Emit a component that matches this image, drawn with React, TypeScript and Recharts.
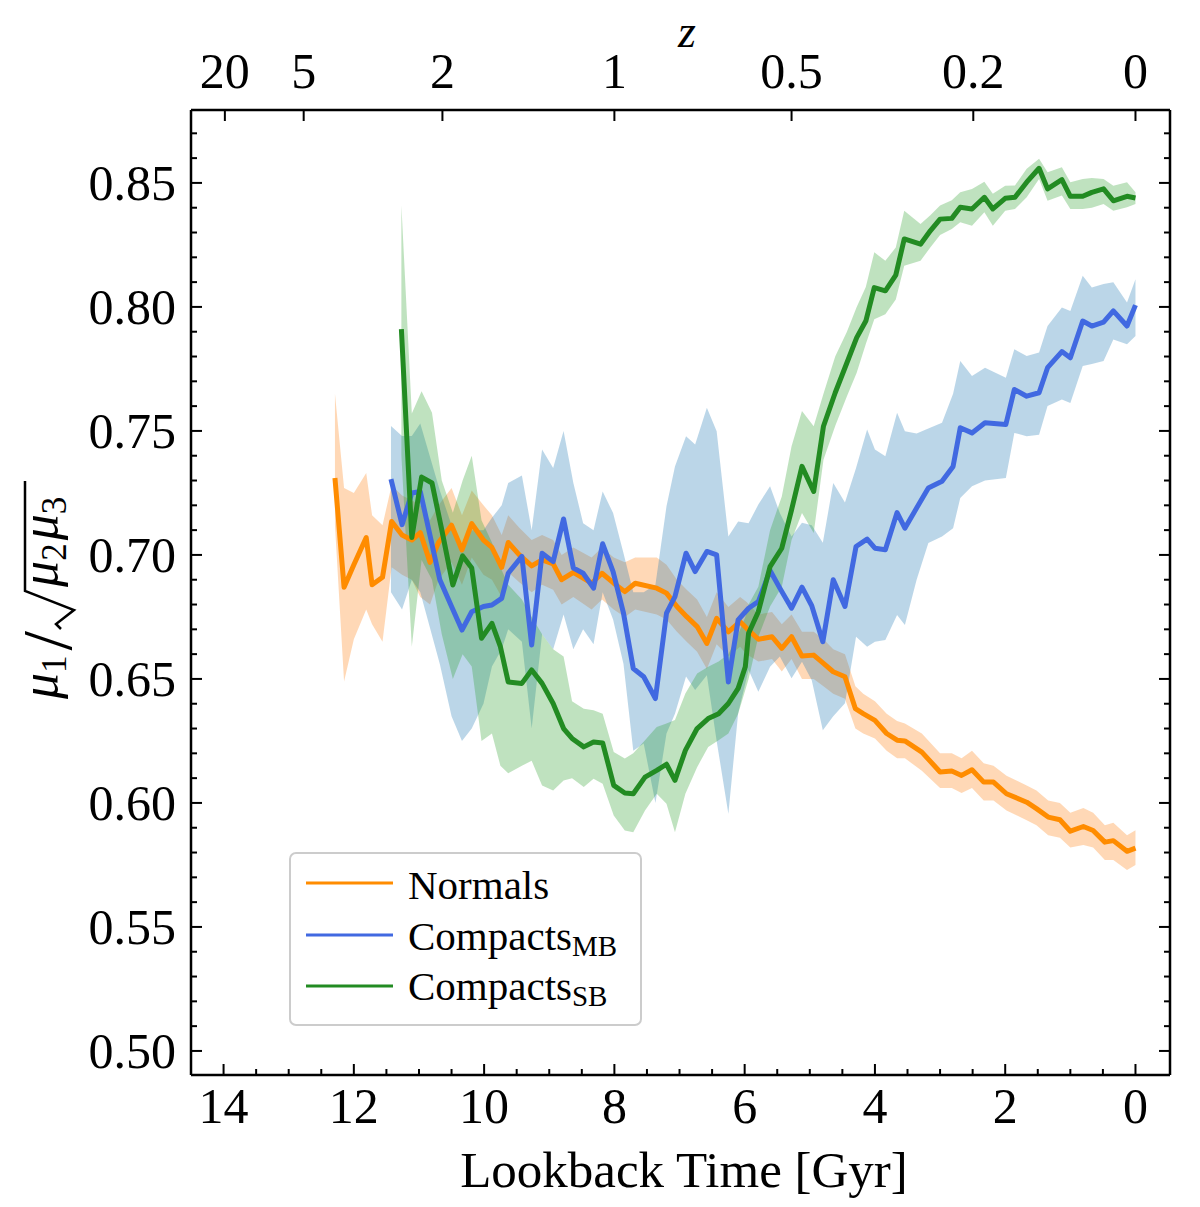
import React from 'react';
import { ComposedChart, Area, Line, XAxis, YAxis } from 'recharts';

const FONT = '"Liberation Serif", "Times New Roman", Times, serif';
const W = 1192;
const H = 1199;
const PLOT_L = 191;
const PLOT_R = 1170;
const PLOT_T = 110;
const PLOT_B = 1075;
const X_DOMAIN: [number, number] = [-0.53, 14.5];
const Y_DOMAIN: [number, number] = [0.4903, 0.8794];

// ---------- tick values / labels ----------
const xMajorTicks = [0, 2, 4, 6, 8, 10, 12, 14];
const xMinorTicks = [0.5, 1, 1.5, 2.5, 3, 3.5, 4.5, 5, 5.5, 6.5, 7, 7.5, 8.5, 9, 9.5, 10.5, 11, 11.5, 12.5, 13, 13.5];
const yMajorTicks = [0.5, 0.55, 0.6, 0.65, 0.7, 0.75, 0.8, 0.85];
const yMinorTicks = [
  0.51, 0.52, 0.53, 0.54, 0.56, 0.57, 0.58, 0.59, 0.61, 0.62, 0.63, 0.64, 0.66, 0.67, 0.68, 0.69,
  0.71, 0.72, 0.73, 0.74, 0.76, 0.77, 0.78, 0.79, 0.81, 0.82, 0.83, 0.84, 0.86, 0.87,
];
const zTickPositions = [13.98, 12.77, 10.64, 8.0, 5.28, 2.49, 0.0];
const zTickLabels = ['20', '5', '2', '1', '0.5', '0.2', '0'];

// ---------- Normals ----------
const normalsT = [12.29, 12.15, 12.0, 11.81, 11.72, 11.56, 11.42, 11.26, 11.11, 10.98, 10.83, 10.7, 10.5, 10.34, 10.19, 10.01, 9.88, 9.73, 9.63, 9.46, 9.27, 9.11, 8.94, 8.81, 8.63, 8.35, 8.19, 8.01, 7.84, 7.68, 7.35, 7.2, 7.04, 6.89, 6.73, 6.58, 6.43, 6.25, 6.07, 5.97, 5.79, 5.58, 5.43, 5.28, 5.12, 4.94, 4.79, 4.64, 4.46, 4.3, 4.18, 4.0, 3.82, 3.66, 3.54, 3.28, 3.0, 2.82, 2.67, 2.51, 2.33, 2.18, 1.98, 1.67, 1.52, 1.34, 1.16, 1.0, 0.8, 0.65, 0.47, 0.34, 0.13, 0.0];
const normalsMean = [0.731, 0.687, 0.696, 0.707, 0.688, 0.691, 0.7135, 0.708, 0.706, 0.709, 0.697, 0.705, 0.712, 0.702, 0.7126, 0.706, 0.703, 0.695, 0.705, 0.7, 0.6956, 0.698, 0.6964, 0.69, 0.693, 0.6886, 0.6926, 0.6886, 0.6852, 0.6886, 0.6866, 0.6846, 0.6792, 0.6751, 0.6711, 0.6643, 0.6744, 0.669, 0.6731, 0.6704, 0.666, 0.667, 0.6623, 0.667, 0.6592, 0.6596, 0.6563, 0.6529, 0.6509, 0.638, 0.636, 0.6333, 0.628, 0.6253, 0.625, 0.6205, 0.6125, 0.6129, 0.6111, 0.6134, 0.6084, 0.6084, 0.6037, 0.6003, 0.5977, 0.5943, 0.5932, 0.5886, 0.5905, 0.5889, 0.5842, 0.5848, 0.5805, 0.5818];
const normalsLo = [0.712, 0.649, 0.666, 0.678, 0.672, 0.665, 0.695, 0.692, 0.69, 0.683, 0.68, 0.69, 0.697, 0.688, 0.699, 0.692, 0.69, 0.683, 0.693, 0.689, 0.685, 0.688, 0.686, 0.68, 0.683, 0.678, 0.682, 0.678, 0.675, 0.678, 0.676, 0.674, 0.669, 0.665, 0.661, 0.654, 0.664, 0.659, 0.663, 0.66, 0.657, 0.658, 0.653, 0.658, 0.65, 0.65, 0.647, 0.644, 0.642, 0.63, 0.628, 0.626, 0.621, 0.618, 0.618, 0.613, 0.606, 0.606, 0.604, 0.606, 0.601, 0.601, 0.597, 0.593, 0.591, 0.587, 0.586, 0.582, 0.583, 0.582, 0.577, 0.577, 0.573, 0.575];
const normalsHi = [0.765, 0.727, 0.725, 0.733, 0.716, 0.712, 0.728, 0.724, 0.722, 0.72, 0.714, 0.72, 0.727, 0.716, 0.726, 0.72, 0.716, 0.708, 0.716, 0.711, 0.706, 0.708, 0.706, 0.7, 0.703, 0.699, 0.703, 0.699, 0.697, 0.699, 0.699, 0.696, 0.69, 0.686, 0.682, 0.675, 0.685, 0.679, 0.683, 0.681, 0.676, 0.677, 0.672, 0.676, 0.669, 0.669, 0.666, 0.662, 0.66, 0.647, 0.644, 0.641, 0.636, 0.633, 0.632, 0.628, 0.62, 0.62, 0.618, 0.621, 0.616, 0.615, 0.611, 0.607, 0.605, 0.601, 0.6, 0.596, 0.598, 0.596, 0.591, 0.592, 0.587, 0.589];

// ---------- Compacts MB ----------
const mbT = [11.43, 11.26, 11.11, 10.98, 10.68, 10.5, 10.34, 10.19, 10.01, 9.88, 9.73, 9.63, 9.42, 9.27, 9.11, 8.94, 8.78, 8.63, 8.48, 8.32, 8.18, 8.02, 7.86, 7.71, 7.55, 7.37, 7.2, 7.07, 6.9, 6.76, 6.58, 6.43, 6.25, 6.1, 5.94, 5.79, 5.61, 5.46, 5.28, 5.12, 4.97, 4.8, 4.64, 4.46, 4.29, 4.12, 4.0, 3.84, 3.66, 3.54, 3.36, 3.18, 2.97, 2.8, 2.69, 2.51, 2.31, 1.99, 1.86, 1.67, 1.48, 1.35, 1.13, 1.0, 0.81, 0.67, 0.49, 0.34, 0.13, 0.0];
const mbMean = [0.7306, 0.7122, 0.725, 0.7256, 0.69, 0.6792, 0.6697, 0.6771, 0.6792, 0.6798, 0.6825, 0.6926, 0.6994, 0.6637, 0.7007, 0.6973, 0.7145, 0.6947, 0.6926, 0.6866, 0.7045, 0.6933, 0.6765, 0.6542, 0.6509, 0.6421, 0.6765, 0.6832, 0.7007, 0.6933, 0.7014, 0.7, 0.6488, 0.6738, 0.6785, 0.6812, 0.6937, 0.6866, 0.6785, 0.687, 0.6795, 0.665, 0.69, 0.6792, 0.7034, 0.7064, 0.7027, 0.7021, 0.7171, 0.7108, 0.7189, 0.727, 0.7297, 0.7357, 0.7513, 0.7492, 0.7533, 0.7526, 0.7667, 0.764, 0.7654, 0.7755, 0.782, 0.7795, 0.7943, 0.7923, 0.7939, 0.7984, 0.7923, 0.8007];
const mbLo = [0.685, 0.678, 0.69, 0.685, 0.656, 0.635, 0.625, 0.63, 0.64, 0.655, 0.662, 0.67, 0.665, 0.63, 0.668, 0.662, 0.676, 0.662, 0.67, 0.664, 0.685, 0.674, 0.656, 0.621, 0.624, 0.6, 0.628, 0.636, 0.651, 0.6455, 0.6515, 0.625, 0.5956, 0.6362, 0.6536, 0.6448, 0.6549, 0.659, 0.6503, 0.6569, 0.6495, 0.6293, 0.635, 0.6402, 0.667, 0.663, 0.665, 0.6657, 0.6758, 0.6717, 0.69, 0.7048, 0.7074, 0.7108, 0.723, 0.7277, 0.73, 0.731, 0.7492, 0.7479, 0.7485, 0.76, 0.7627, 0.7613, 0.7762, 0.777, 0.7782, 0.7869, 0.7849, 0.7883];
const mbHi = [0.752, 0.748, 0.748, 0.753, 0.726, 0.712, 0.704, 0.71, 0.71, 0.715, 0.72, 0.729, 0.732, 0.71, 0.7425, 0.735, 0.75, 0.729, 0.7128, 0.71, 0.7256, 0.7169, 0.7007, 0.685, 0.685, 0.688, 0.7196, 0.7357, 0.7479, 0.7445, 0.7593, 0.7499, 0.7074, 0.7135, 0.7128, 0.7203, 0.7277, 0.7169, 0.7074, 0.713, 0.712, 0.7049, 0.729, 0.7211, 0.735, 0.7506, 0.7425, 0.7398, 0.7573, 0.7499, 0.749, 0.751, 0.7533, 0.765, 0.7782, 0.7721, 0.7755, 0.7714, 0.7829, 0.7802, 0.7816, 0.7923, 0.7998, 0.7984, 0.8126, 0.8078, 0.8092, 0.8099, 0.8018, 0.8112];

// ---------- Compacts SB ----------
const sbT = [11.27, 11.11, 10.96, 10.8, 10.65, 10.48, 10.33, 10.19, 10.04, 9.88, 9.75, 9.63, 9.42, 9.27, 9.11, 8.94, 8.78, 8.65, 8.47, 8.32, 8.18, 8.01, 7.84, 7.71, 7.53, 7.35, 7.2, 7.07, 6.91, 6.73, 6.56, 6.4, 6.25, 6.1, 5.99, 5.94, 5.79, 5.61, 5.43, 5.28, 5.12, 4.94, 4.79, 4.61, 4.43, 4.28, 4.14, 4.01, 3.84, 3.68, 3.55, 3.3, 3.15, 3.0, 2.82, 2.69, 2.51, 2.32, 2.19, 2.0, 1.85, 1.67, 1.48, 1.35, 1.13, 1.0, 0.81, 0.67, 0.49, 0.34, 0.13, 0.0];
const sbMean = [0.791, 0.707, 0.7314, 0.729, 0.7101, 0.6879, 0.6996, 0.6947, 0.6664, 0.6724, 0.663, 0.6488, 0.6482, 0.6536, 0.6482, 0.6401, 0.63, 0.626, 0.6226, 0.6246, 0.6242, 0.6071, 0.604, 0.6037, 0.6104, 0.6131, 0.6156, 0.6091, 0.6212, 0.63, 0.634, 0.636, 0.6401, 0.6462, 0.6549, 0.6684, 0.6771, 0.6953, 0.7027, 0.7182, 0.7357, 0.7256, 0.7519, 0.7654, 0.7775, 0.7876, 0.7943, 0.8078, 0.8065, 0.8128, 0.8274, 0.8253, 0.8307, 0.8354, 0.8357, 0.8402, 0.8395, 0.8442, 0.8395, 0.8438, 0.8442, 0.8503, 0.8559, 0.8476, 0.8513, 0.8446, 0.8446, 0.8462, 0.8476, 0.8428, 0.8446, 0.8439];
const sbLo = [0.74, 0.663, 0.698, 0.69, 0.668, 0.65, 0.66, 0.655, 0.625, 0.628, 0.615, 0.612, 0.615, 0.617, 0.607, 0.605, 0.609, 0.61, 0.6064, 0.6098, 0.6077, 0.5949, 0.5889, 0.5882, 0.5969, 0.6037, 0.5997, 0.5882, 0.6037, 0.6144, 0.6226, 0.6253, 0.628, 0.636, 0.6455, 0.65, 0.667, 0.6792, 0.6872, 0.706, 0.7169, 0.7088, 0.7384, 0.752, 0.764, 0.7735, 0.785, 0.795, 0.797, 0.803, 0.8166, 0.8186, 0.824, 0.829, 0.8314, 0.8341, 0.8327, 0.8382, 0.8327, 0.8388, 0.8395, 0.8442, 0.8516, 0.8428, 0.8449, 0.8395, 0.8395, 0.84, 0.8415, 0.8388, 0.8402, 0.8415];
const sbHi = [0.841, 0.757, 0.766, 0.7573, 0.73, 0.717, 0.73, 0.74, 0.714, 0.705, 0.695, 0.688, 0.682, 0.675, 0.668, 0.662, 0.659, 0.641, 0.638, 0.6374, 0.636, 0.6205, 0.6179, 0.62, 0.6253, 0.6306, 0.632, 0.6334, 0.6441, 0.6522, 0.6549, 0.657, 0.66, 0.668, 0.675, 0.68, 0.6872, 0.71, 0.7236, 0.7438, 0.758, 0.7519, 0.765, 0.78, 0.79, 0.8, 0.808, 0.822, 0.8186, 0.824, 0.8388, 0.8334, 0.837, 0.8409, 0.843, 0.8462, 0.8475, 0.8505, 0.8456, 0.8489, 0.849, 0.8557, 0.8597, 0.8543, 0.8563, 0.8503, 0.8516, 0.852, 0.8516, 0.8489, 0.8503, 0.8462];

const seriesNames = ['Normals', 'Compacts', 'Compacts'];
const seriesSubs = ['', 'MB', 'SB'];
const lineColors = ['#ff8c00', '#4169e1', '#228b22'];
const bandColors = ['#ff7f0e', '#1f77b4', '#2ca02c'];

const rows = (t: number[], m: number[], lo: number[], hi: number[]) =>
  t.map((tv, i) => ({ t: tv, mean: m[i], band: [lo[i], hi[i]] }));

const normalsRows = rows(normalsT, normalsMean, normalsLo, normalsHi);
const mbRows = rows(mbT, mbMean, mbLo, mbHi);
const sbRows = rows(sbT, sbMean, sbLo, sbHi);
const allRows = [normalsRows, mbRows, sbRows];

const isIn = (arr: number[], v: number) => arr.some((a) => Math.abs(a - v) < 1e-6);

const MAJOR = 11;
const MINOR = 6;

const BottomTick = (props: any) => {
  const { x, y, payload } = props;
  const major = isIn(xMajorTicks, payload.value);
  return (
    <g>
      <line x1={x} x2={x} y1={y} y2={y - (major ? MAJOR : MINOR)} stroke="#000" strokeWidth={2} />
      {major && (
        <text x={x} y={y + 48} textAnchor="middle" fontSize={50} fontFamily={FONT} fill="#000">
          {String(payload.value)}
        </text>
      )}
    </g>
  );
};

const TopTick = (props: any) => {
  const { x, y, payload } = props;
  const idx = zTickPositions.findIndex((p) => Math.abs(p - payload.value) < 1e-6);
  return (
    <g>
      <line x1={x} x2={x} y1={y} y2={y + MAJOR} stroke="#000" strokeWidth={2} />
      <text x={x} y={y - 22} textAnchor="middle" fontSize={50} fontFamily={FONT} fill="#000">
        {idx >= 0 ? zTickLabels[idx] : ''}
      </text>
    </g>
  );
};

const LeftTick = (props: any) => {
  const { x, y, payload } = props;
  const major = isIn(yMajorTicks, payload.value);
  return (
    <g>
      <line x1={x} x2={x + (major ? MAJOR : MINOR)} y1={y} y2={y} stroke="#000" strokeWidth={2} />
      {major && (
        <text x={x - 15} y={y + 17} textAnchor="end" fontSize={50} fontFamily={FONT} fill="#000">
          {Number(payload.value).toFixed(2)}
        </text>
      )}
    </g>
  );
};

const RightTick = (props: any) => {
  const { x, y, payload } = props;
  const major = isIn(yMajorTicks, payload.value);
  return (
    <g>
      <line x1={x} x2={x - (major ? MAJOR : MINOR)} y1={y} y2={y} stroke="#000" strokeWidth={2} />
    </g>
  );
};

const YLabel = () => (
  <g transform="translate(57,585) rotate(-90)" fontFamily={FONT} fill="#000">
    <text x={-114} y={0}>
      <tspan fontSize={52} fontStyle="italic">μ</tspan>
      <tspan fontSize={35} dy={9}>1</tspan>
      <tspan fontSize={70} dy={5} dx={5}>/</tspan>
      <tspan fontSize={52} fontStyle="italic" dy={-14} dx={44}>μ</tspan>
      <tspan fontSize={35} dy={9}>2</tspan>
      <tspan fontSize={52} fontStyle="italic" dy={-9} dx={3}>μ</tspan>
      <tspan fontSize={35} dy={9}>3</tspan>
    </text>
    <path d="M -44 4 L -39 -1 L -25 17 L -6 -32 L 104 -32" fill="none" stroke="#000" strokeWidth={2.5} />
  </g>
);

const XLabel = () => (
  <text x={684} y={1187} textAnchor="middle" fontSize={51} fontFamily={FONT} fill="#000">
    Lookback Time [Gyr]
  </text>
);

const ZLabel = () => (
  <text x={687} y={47} textAnchor="middle" fontSize={46} fontStyle="italic" fontFamily={FONT} fill="#000">
    z
  </text>
);

const LegendBox = () => {
  const rowsY = [883, 935, 986];
  const baseY = [899, 950, 1000];
  return (
    <svg width={W} height={H} style={{ position: 'absolute', left: 0, top: 0, pointerEvents: 'none' }}>
      <rect x={290} y={853} width={351} height={172} rx={6} ry={6} fill="#fff" fillOpacity={0.8} stroke="#cccccc" strokeWidth={2} />
      {seriesNames.map((name, i) => (
        <g key={i}>
          <line x1={306} x2={393} y1={rowsY[i]} y2={rowsY[i]} stroke={lineColors[i]} strokeWidth={3.2} />
          <text x={408} y={baseY[i]} fontSize={41} fontFamily={FONT} fill="#000">
            {name}
            {seriesSubs[i] && (
              <tspan fontSize={29} dy={6}>
                {seriesSubs[i]}
              </tspan>
            )}
          </text>
        </g>
      ))}
    </svg>
  );
};

export default function App() {
  return (
    <div style={{ position: 'relative', marginTop: -8, marginLeft: -8, width: W, height: H, background: '#fff' }}>
      <ComposedChart width={W} height={H} margin={{ top: 0, right: 0, bottom: 0, left: 0 }}>
        <XAxis
          xAxisId="b"
          type="number"
          dataKey="t"
          domain={X_DOMAIN}
          reversed
          allowDataOverflow
          ticks={[...xMajorTicks, ...xMinorTicks].sort((a, b) => a - b)}
          interval={0}
          tick={(p: any) => <BottomTick {...p} />}
          tickSize={0}
          tickMargin={0}
          tickLine={false}
          axisLine={{ stroke: '#000', strokeWidth: 2.5 }}
          height={H - PLOT_B}
          label={<XLabel />}
        />
        <XAxis
          xAxisId="top"
          orientation="top"
          type="number"
          dataKey="t"
          domain={X_DOMAIN}
          reversed
          allowDataOverflow
          ticks={zTickPositions}
          interval={0}
          tick={(p: any) => <TopTick {...p} />}
          tickSize={0}
          tickMargin={0}
          tickLine={false}
          axisLine={{ stroke: '#000', strokeWidth: 2.5 }}
          height={PLOT_T}
          label={<ZLabel />}
        />
        <YAxis
          yAxisId="l"
          type="number"
          domain={Y_DOMAIN}
          allowDataOverflow
          ticks={[...yMajorTicks, ...yMinorTicks].sort((a, b) => a - b)}
          interval={0}
          tick={(p: any) => <LeftTick {...p} />}
          tickSize={0}
          tickMargin={0}
          tickLine={false}
          axisLine={{ stroke: '#000', strokeWidth: 2.5 }}
          width={PLOT_L}
          label={<YLabel />}
        />
        <YAxis
          yAxisId="r"
          orientation="right"
          type="number"
          domain={Y_DOMAIN}
          allowDataOverflow
          ticks={[...yMajorTicks, ...yMinorTicks].sort((a, b) => a - b)}
          interval={0}
          tick={(p: any) => <RightTick {...p} />}
          tickSize={0}
          tickMargin={0}
          tickLine={false}
          axisLine={{ stroke: '#000', strokeWidth: 2.5 }}
          width={W - PLOT_R}
        />
        {allRows.map((d, i) => (
          <Area
            key={'band' + i}
            data={d}
            xAxisId="b"
            yAxisId="l"
            dataKey="band"
            type="linear"
            stroke="none"
            fill={bandColors[i]}
            fillOpacity={0.3}
            dot={false}
            activeDot={false}
            isAnimationActive={false}
          />
        ))}
        {allRows.map((d, i) => (
          <Line
            key={'line' + i}
            data={d}
            xAxisId="b"
            yAxisId="l"
            dataKey="mean"
            type="linear"
            stroke={lineColors[i]}
            strokeWidth={5}
            strokeLinejoin="round"
            dot={false}
            activeDot={false}
            isAnimationActive={false}
          />
        ))}
      </ComposedChart>
      <LegendBox />
    </div>
  );
}
